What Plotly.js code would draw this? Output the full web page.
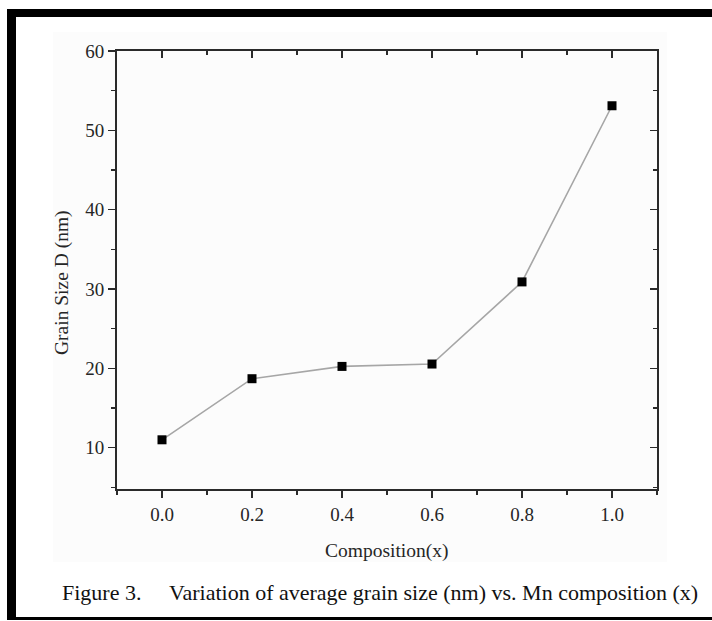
<!DOCTYPE html>
<html>
<head>
<meta charset="utf-8">
<script src="https://cdn.plot.ly/plotly-3.0.1.min.js"></script>
<style>
html,body{margin:0;padding:0;background:#fff;}
#chart{width:712px;height:621px;}
</style>
</head>
<body>
<div id="chart"></div>
<script>
// Data
var composition = [0.0, 0.2, 0.4, 0.6, 0.8, 1.0];
var grainSize = [11.0, 18.7, 20.25, 20.55, 30.9, 53.1];
var xTitle = "Composition(x)";
var yTitle = "Grain Size D (nm)";
var caption1 = "Figure 3.";
var caption2 = "Variation of average grain size (nm) vs. Mn composition (x)";

var W = 712, H = 621;
var M = {l: 117, r: 55, t: 51, b: 132};
var PW = W - M.l - M.r, PH = H - M.t - M.b;
function px(x){ return (x - M.l) / PW; }
function py(y){ return (H - M.b - y) / PH; }

var serif = "Liberation Serif, Times New Roman, serif";
var axColor = "#2a2a2a";
var textColor = "#262626";

var trace = {
  x: composition, y: grainSize,
  type: "scatter", mode: "lines+markers",
  line: {color: "#a6a6a6", width: 1.6},
  marker: {symbol: "square", size: 9, color: "#000"},
  showlegend: false, hoverinfo: "skip"
};

var baseX = {
  range: [-0.1, 1.1], tick0: 0, dtick: 0.2,
  showgrid: false, zeroline: false,
  showline: true, linecolor: axColor, linewidth: 2,
  ticklen: 7, tickwidth: 1.5, tickcolor: axColor
};
var baseY = {
  range: [4.8, 60], tick0: 0, dtick: 10,
  showgrid: false, zeroline: false,
  showline: true, linecolor: axColor, linewidth: 2,
  ticklen: 7, tickwidth: 1.5, tickcolor: axColor
};

var layout = {
  width: W, height: H,
  margin: M,
  paper_bgcolor: "#ffffff",
  plot_bgcolor: "rgba(0,0,0,0)",
  font: {family: serif, color: textColor},
  xaxis: Object.assign({}, baseX, {
    ticks: "outside", tickformat: ".1f",
    tickfont: {family: serif, size: 19, color: textColor},
    minor: {dtick: 0.1, tick0: 0, ticks: "outside", ticklen: 4, tickwidth: 1.5, tickcolor: axColor}
  }),
  yaxis: Object.assign({}, baseY, {
    ticks: "outside",
    tickfont: {family: serif, size: 19, color: textColor},
    minor: {dtick: 5, tick0: 0, ticks: "outside", ticklen: 4, tickwidth: 1.5, tickcolor: axColor}
  }),
  xaxis2: Object.assign({}, baseX, {
    overlaying: "x", side: "top", anchor: "y",
    ticks: "inside", showticklabels: false,
    minor: {dtick: 0.1, tick0: 0, ticks: "inside", ticklen: 4, tickwidth: 1.5, tickcolor: axColor}
  }),
  yaxis2: Object.assign({}, baseY, {
    overlaying: "y", side: "right", anchor: "x",
    ticks: "inside", showticklabels: false,
    minor: {dtick: 5, tick0: 0, ticks: "inside", ticklen: 4, tickwidth: 1.5, tickcolor: axColor}
  }),
  shapes: [
    {type: "rect", xref: "paper", yref: "paper", layer: "below",
     x0: px(53), x1: px(667), y0: py(562), y1: py(32),
     fillcolor: "#fcfcfc", line: {width: 0}},
    {type: "rect", xref: "paper", yref: "paper",
     x0: px(7), x1: px(712), y0: py(17), y1: py(9),
     fillcolor: "#000", line: {width: 0}},
    {type: "rect", xref: "paper", yref: "paper",
     x0: px(7), x1: px(16), y0: py(620), y1: py(9),
     fillcolor: "#000", line: {width: 0}},
    {type: "rect", xref: "paper", yref: "paper",
     x0: px(7), x1: px(712), y0: py(620), y1: py(617),
     fillcolor: "#000", line: {width: 0}}
  ],
  annotations: [
    {text: yTitle, xref: "paper", yref: "paper", x: px(62), y: py(283),
     xanchor: "center", yanchor: "middle", textangle: -90, showarrow: false,
     font: {family: serif, size: 19.5, color: textColor}},
    {text: xTitle, xref: "paper", yref: "paper", x: px(387), y: py(551),
     xanchor: "center", yanchor: "middle", showarrow: false,
     font: {family: serif, size: 19.5, color: textColor}},
    {text: caption1, xref: "paper", yref: "paper", x: px(60), y: py(592),
     xanchor: "left", yanchor: "middle", showarrow: false,
     font: {family: serif, size: 22, color: "#111"}},
    {text: caption2, xref: "paper", yref: "paper", x: px(167), y: py(592),
     xanchor: "left", yanchor: "middle", showarrow: false,
     font: {family: serif, size: 22, color: "#111"}}
  ]
};

var dummyTop = {x: [null], y: [null], xaxis: "x2", yaxis: "y", showlegend: false, hoverinfo: "skip"};
var dummyRight = {x: [null], y: [null], xaxis: "x", yaxis: "y2", showlegend: false, hoverinfo: "skip"};

Plotly.newPlot("chart", [trace, dummyTop, dummyRight], layout, {staticPlot: true, displayModeBar: false});
</script>
</body>
</html>
